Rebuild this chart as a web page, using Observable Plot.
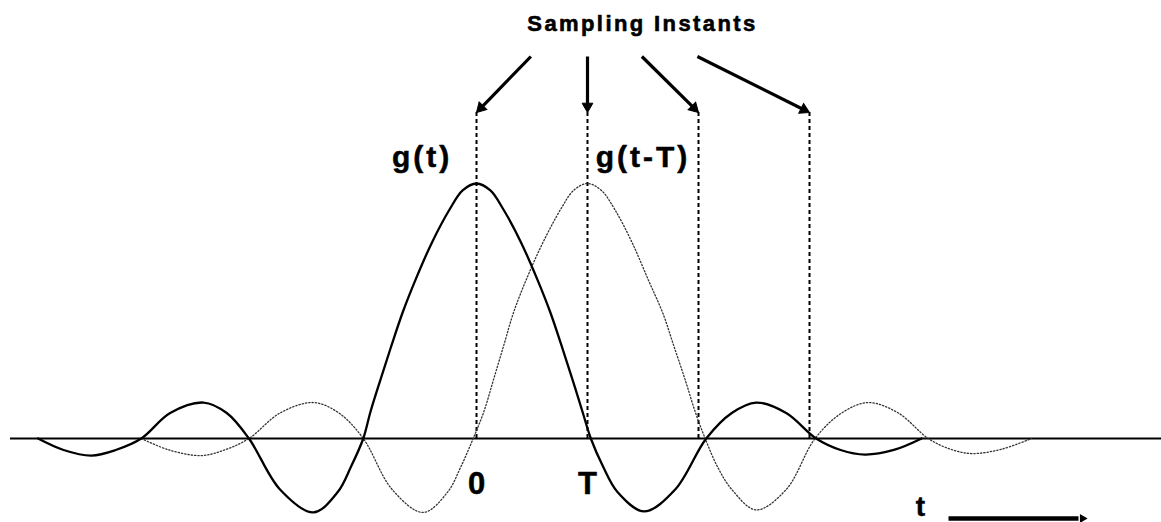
<!DOCTYPE html>
<html>
<head>
<meta charset="utf-8">
<script src="https://cdn.jsdelivr.net/npm/d3@7"></script>
<script src="https://cdn.jsdelivr.net/npm/@observablehq/plot@0.6"></script>
<style>
  html, body { margin: 0; padding: 0; background: #fff; }
  #chart svg { display: block; }
  g[aria-description="title"] text { letter-spacing: 2.4px; }
  g[aria-description="curve-labels"] text { letter-spacing: 3px; }
</style>
</head>
<body>
<div id="chart"></div>
<script>
// ---- Data (t in units of T, amplitude normalised to the peak of g(t)) ----
// g(t): solid pulse
const gT = [-3.95, -3.72, -3.47, -3.25, -3.02, -2.76, -2.46, -2.25, -2.05, -1.77, -1.47, -1.25, -1.13, -1.02,
            -0.955, -0.862, -0.765, -0.663, -0.545, -0.40, -0.24, -0.125, 0, 0.125, 0.24, 0.40, 0.545, 0.663, 0.765, 0.862, 0.955, 1.03,
            1.14, 1.27, 1.51, 1.79, 2.07, 2.30, 2.52, 2.79, 3.06, 3.28, 3.50, 3.76, 4.01];
const gV = [0, -0.045, -0.067, -0.045, 0, 0.10, 0.141, 0.10, 0, -0.20, -0.29, -0.21, -0.11, 0,
            0.105, 0.235, 0.366, 0.497, 0.627, 0.77, 0.90, 0.973, 1.0, 0.973, 0.90, 0.77, 0.627, 0.497, 0.366, 0.235, 0.105, 0,
            -0.11, -0.21, -0.286, -0.20, 0, 0.10, 0.141, 0.10, 0, -0.045, -0.063, -0.045, 0];
// g(t-T): dotted pulse
const hT = [-3.02, -2.77, -2.48, -2.27, -2.05, -1.77, -1.47, -1.24, -1.02, -0.76, -0.48, -0.26, -0.14, -0.03,
            0.066, 0.156, 0.246, 0.336, 0.455, 0.60, 0.76, 0.875, 1.0, 1.125, 1.25, 1.40, 1.55, 1.68, 1.78, 1.88, 1.97, 2.06,
            2.17, 2.30, 2.52, 2.79, 3.05, 3.29, 3.53, 3.80, 4.07, 4.27, 4.46, 4.73, 5.0];
const hV = [0, -0.045, -0.067, -0.045, 0, 0.10, 0.141, 0.10, 0, -0.20, -0.29, -0.21, -0.11, 0,
            0.105, 0.235, 0.366, 0.497, 0.63, 0.77, 0.90, 0.973, 1.0, 0.973, 0.895, 0.77, 0.62, 0.49, 0.36, 0.23, 0.105, 0,
            -0.11, -0.20, -0.28, -0.20, 0, 0.10, 0.141, 0.10, 0, -0.042, -0.059, -0.042, 0];
// sampling instants (multiples of T) and where their arrows start
const instants = [0, 1, 2, 3];
const arrowStart = [0.49, 1.0, 1.49, 1.99];
// labels
const titleText = "Sampling Instants";
const curveLabels = ["g(t)", "g(t-T)"];
const curveLabelT = [-0.49, 1.50];
const tickLabels = ["0", "T"];
const tickLabelT = [0.0, 1.0];
const axisName = "t";

// ---- Layout constants (pixels) ----
const W = 1161, H = 522;
const X0 = 476, PX = 111;      // pixel of t=0, pixels per T
const BASE = 438, AMP = 255;   // pixel of g=0, pixels per unit amplitude
const tx = p => (p - X0) / PX;
const gy = p => (BASE - p) / AMP;
const ARROW_TOP = 56, ARROW_TIP = 112, HEAD_R = 4, HEAD_BACK = 6.2;

const solid = gT.map((t, i) => ({t, g: gV[i]}));
const dotted = hT.map((t, i) => ({t, g: hV[i]}));
// arrows: shaft ends at the centre of a filled triangular head whose tip touches the dashed line
const arrows = instants.map((t, i) => {
  const dx = (t - arrowStart[i]) * PX, dy = ARROW_TIP - ARROW_TOP;
  const L = Math.hypot(dx, dy), ux = dx / L, uy = dy / L;
  return {
    x1: arrowStart[i], y1: gy(ARROW_TOP),
    cx: t - HEAD_BACK * ux / PX, cy: gy(ARROW_TIP - HEAD_BACK * uy),
    rot: Math.atan2(dx, -dy) * 180 / Math.PI
  };
});
const tArrow = [{x1: tx(948), x2: tx(1078), cx: tx(1082), y: gy(518), rot: 90}];

const chart = Plot.plot({
  width: W,
  height: H,
  margin: 0,
  style: {fontFamily: "'Liberation Sans', Arial, sans-serif", background: "#fff", color: "#000"},
  x: {domain: [tx(0), tx(W)], axis: null},
  y: {domain: [gy(H), gy(0)], axis: null},
  marks: [
    // baseline
    Plot.ruleY([0], {x1: tx(10), x2: tx(W), stroke: "#000", strokeWidth: 2}),
    // sampling instant dashed lines
    Plot.ruleX(instants, {x: d => d, y1: 0, y2: gy(ARROW_TIP), stroke: "#000", strokeWidth: 2, strokeDasharray: "4,3"}),
    // g(t-T) dotted
    Plot.line(dotted, {x: "t", y: "g", curve: "catmull-rom", stroke: "#333", strokeWidth: 1.3, strokeDasharray: "1.3,2"}),
    // g(t) solid
    Plot.line(solid, {x: "t", y: "g", curve: "catmull-rom", stroke: "#000", strokeWidth: 2.3}),
    // arrows to sampling instants
    Plot.link(arrows, {x1: "x1", y1: "y1", x2: "cx", y2: "cy", stroke: "#000", strokeWidth: 3.2}),
    Plot.dot(arrows, {x: "cx", y: "cy", symbol: "triangle", r: HEAD_R, rotate: "rot", fill: "#000", stroke: "#000", strokeWidth: 1}),
    // time axis arrow
    Plot.link(tArrow, {x1: "x1", x2: "x2", y1: "y", y2: "y", stroke: "#000", strokeWidth: 4.5}),
    Plot.dot(tArrow, {x: "cx", y: "y", symbol: "triangle", r: 3.3, rotate: "rot", fill: "#000"}),
    // title
    Plot.text([titleText], {x: tx(642), y: gy(30), text: d => d, fontSize: 22, fontWeight: "bold", textAnchor: "middle", lineAnchor: "bottom", fill: "#000", stroke: "#000", strokeWidth: 0.6, ariaDescription: "title"}),
    // curve labels
    Plot.text(curveLabels, {x: (d, i) => curveLabelT[i], y: gy(166), text: d => d, fontSize: 30, fontWeight: "bold", textAnchor: "middle", lineAnchor: "bottom", fill: "#000", stroke: "#000", strokeWidth: 0.5, ariaDescription: "curve-labels"}),
    // tick labels 0 and T
    Plot.text(tickLabels, {x: (d, i) => tickLabelT[i], y: gy(493), text: d => d, fontSize: 31, fontWeight: "bold", textAnchor: "middle", lineAnchor: "bottom", fill: "#000", stroke: "#000", strokeWidth: 0.5}),
    // axis name t
    Plot.text([axisName], {x: tx(920), y: gy(515), text: d => d, fontSize: 28, fontWeight: "bold", textAnchor: "middle", lineAnchor: "bottom", fill: "#000", stroke: "#000", strokeWidth: 0.5})
  ]
});
document.getElementById("chart").appendChild(chart);
</script>
</body>
</html>
